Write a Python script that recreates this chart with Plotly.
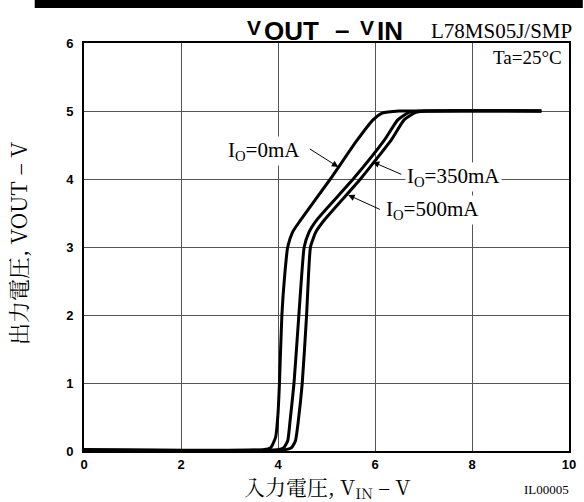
import plotly.graph_objects as go

# ---- data ----
vin_0mA = [0, 3.70, 3.85, 3.95, 4.00, 4.03, 4.08, 4.14, 4.20, 4.30, 4.45, 5.08, 5.62, 5.96, 6.15, 6.50, 7.00, 9.43]
vout_0mA = [0.02, 0.02, 0.05, 0.20, 0.55, 1.00, 2.00, 2.60, 3.00, 3.22, 3.38, 4.00, 4.56, 4.87, 4.97, 5.00, 5.00, 5.00]

vin_350mA = [0, 4.00, 4.12, 4.20, 4.25, 4.33, 4.43, 4.49, 4.54, 4.64, 4.80, 5.55, 6.20, 6.47, 6.70, 7.00, 9.43]
vout_350mA = [0.02, 0.02, 0.05, 0.15, 0.45, 1.00, 2.00, 2.60, 3.00, 3.22, 3.40, 4.00, 4.58, 4.87, 4.98, 5.00, 5.00]

vin_500mA = [0, 4.15, 4.28, 4.36, 4.42, 4.50, 4.59, 4.63, 4.67, 4.78, 4.96, 5.70, 6.34, 6.60, 6.84, 7.10, 9.43]
vout_500mA = [0.02, 0.02, 0.05, 0.15, 0.45, 1.00, 2.00, 2.60, 3.00, 3.22, 3.40, 4.00, 4.58, 4.87, 4.98, 5.00, 5.00]

x_ticks = [0, 2, 4, 6, 8, 10]
y_ticks = [0, 1, 2, 3, 4, 5, 6]

series = [
    ("I<sub>O</sub>=0mA", vin_0mA, vout_0mA),
    ("I<sub>O</sub>=350mA", vin_350mA, vout_350mA),
    ("I<sub>O</sub>=500mA", vin_500mA, vout_500mA),
]

# ---- layout helpers ----
L, R, T, B = 84, 576, 43, 451
W, H = 584, 502


def px_x(p):
    return (p - L) / (R - L)


def px_y(p):
    return (B - p) / (B - T)


SERIF = "Liberation Serif, Times New Roman, serif"
SANS = "Liberation Sans, Arial, sans-serif"
CJK = "Noto Serif CJK JP, Noto Sans CJK JP, " + SERIF

fig = go.Figure()
for name, xs, ys in series:
    fig.add_trace(go.Scatter(
        x=xs, y=ys, mode="lines", name=name,
        line=dict(color="black", width=3, shape="spline", smoothing=0.5),
        showlegend=False, hoverinfo="skip",
    ))

axis_common = dict(
    showgrid=True, gridcolor="#555555", gridwidth=1,
    showline=True, linecolor="black", linewidth=2, mirror=True,
    ticks="", zeroline=False,
    tickfont=dict(family=SANS, size=13, color="black", weight="bold"),
)

fig.update_layout(
    width=W, height=H,
    margin=dict(l=L, r=W - R, t=T, b=H - B, pad=0),
    paper_bgcolor="white", plot_bgcolor="white",
    xaxis=dict(range=[0, 10], tickvals=x_ticks, ticktext=[str(v) for v in x_ticks], **axis_common),
    yaxis=dict(range=[0, 6], tickvals=y_ticks, ticktext=[str(v) for v in y_ticks],
               ticklabelstandoff=6, **axis_common),
)

# top black bar
fig.add_shape(type="rect", xref="paper", yref="paper",
              x0=px_x(34), x1=px_x(590), y0=px_y(8), y1=px_y(-5),
              fillcolor="black", line=dict(width=0), layer="above")

ann = []


def txt(text, x, y, size, family, xanchor="left", yanchor="middle", bold=False, **kw):
    ann.append(dict(xref="paper", yref="paper", x=px_x(x), y=px_y(y), xanchor=xanchor, yanchor=yanchor,
                    text=text, showarrow=False,
                    font=dict(family=family, size=size, color="black", weight="bold" if bold else "normal"),
                    **kw))


# title: smaller raised "V" followed by large letters
txt("V", 247, 28, 21, SANS, bold=True)
txt("OUT", 265, 31, 26, SANS, bold=True)
txt("–", 337, 30, 26, SANS, bold=True)
txt("V", 362, 28, 21, SANS, bold=True)
txt("IN", 379, 31, 26, SANS, bold=True)

txt("L78MS05J/SMP", 581, 31, 21, SERIF, xanchor="right")
txt("Ta=25°C", 571, 58, 19, SERIF, xanchor="right")
# axis titles
txt("入力電圧, V<sub>IN</sub> – V", 330, 487, 21, CJK, xanchor="center")
txt("出力電圧, VOUT – V", 16, 243, 22, CJK, xanchor="center", textangle=-90)
txt("IL00005", 578, 489, 13, SERIF, xanchor="right")

# curve labels
label_pos = [(228, 151), (410, 177), (388, 210)]
for (name, _, _), (lx, ly) in zip(series, label_pos):
    txt(name, lx, ly, 21, SERIF, bgcolor="white", borderpad=1)

# arrows (head in data coords, tail offset in pixels)
arrows = [((342, 167), (312, 148)), ((377, 162), (407, 175)), ((352, 195), (385, 210))]
for (hx, hy), (tx, ty) in arrows:
    ann.append(dict(xref="x", yref="y",
                    x=(hx - L) / (R - L) * 10, y=(B - hy) / (B - T) * 6,
                    ax=tx - hx, ay=ty - hy, text="", showarrow=True,
                    arrowhead=2, arrowsize=1.3, arrowwidth=1, arrowcolor="black"))

fig.update_layout(annotations=ann)
fig.write_html("out.html", config={"displayModeBar": False},
               post_script="document.body.style.margin='0';")
